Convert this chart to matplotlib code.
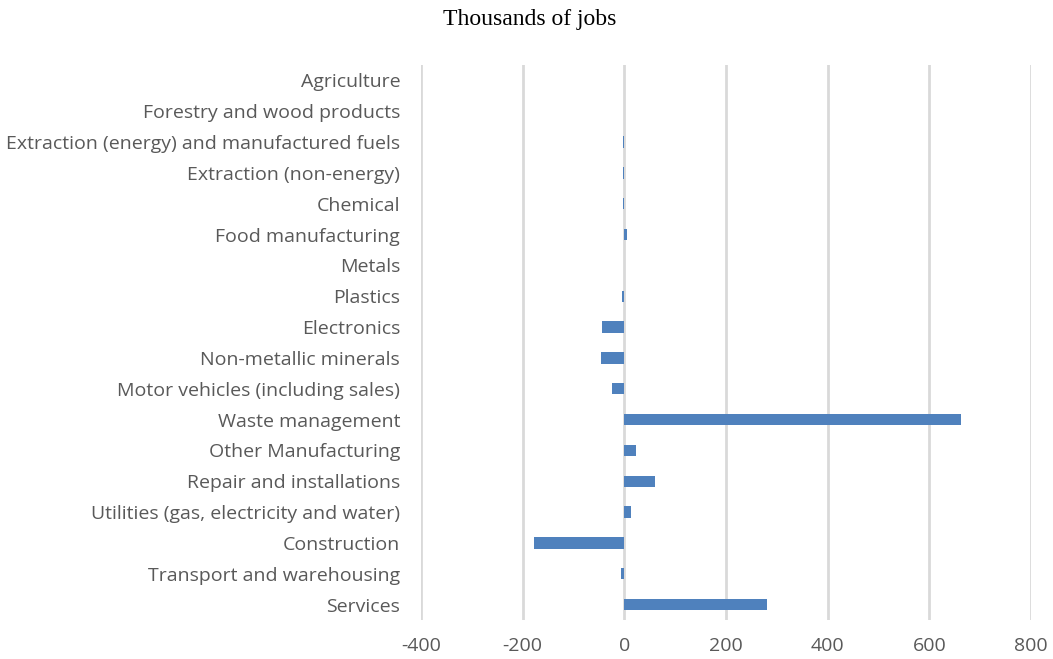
import matplotlib
matplotlib.use("Agg")
import matplotlib.pyplot as plt

# sectors, top to bottom
sectors = ["Agriculture", "Forestry and wood products",
           "Extraction (energy) and manufactured fuels", "Extraction (non-energy)",
           "Chemical", "Food manufacturing", "Metals", "Plastics", "Electronics",
           "Non-metallic minerals", "Motor vehicles (including sales)",
           "Waste management", "Other Manufacturing", "Repair and installations",
           "Utilities (gas, electricity and water)", "Construction",
           "Transport and warehousing", "Services"]
jobs = [0, 0, -3, -2, -3, 5, 0, -5, -44, -45, -24, 662, 22, 60, 14, -178, -7, 280]
xticks = [-400, -200, 0, 200, 400, 600, 800]

fig = plt.figure(figsize=(10.53, 6.59), dpi=100)
ax = fig.add_axes([421/1053, 1-620/659, 610/1053, 555/659])

ypos = list(range(len(sectors)))
ax.barh(ypos, jobs, height=0.37, color="#4F81BD", zorder=3)

ax.set_xlim(-400, 800)
ax.set_ylim(len(sectors)-0.5, -0.5)
ax.set_xticks(xticks)
ax.set_xticklabels([str(t) for t in xticks])
ax.set_yticks(ypos)
ax.set_yticklabels(sectors)
ax.grid(axis="x", color="#D9D9D9", linewidth=2, zorder=0)
for s in ax.spines.values():
    s.set_visible(False)
ax.tick_params(length=0, labelsize=14, colors="#595959")
ax.tick_params(axis="y", pad=15)
ax.tick_params(axis="x", pad=12)
for lab in ax.get_xticklabels() + ax.get_yticklabels():
    lab.set_family("Open Sans")

fig.text(530/1053, 1-20/659, "Thousands of jobs", ha="center", va="center",
         family="Liberation Serif", fontsize=17)

fig.savefig("out.png", dpi=100)
